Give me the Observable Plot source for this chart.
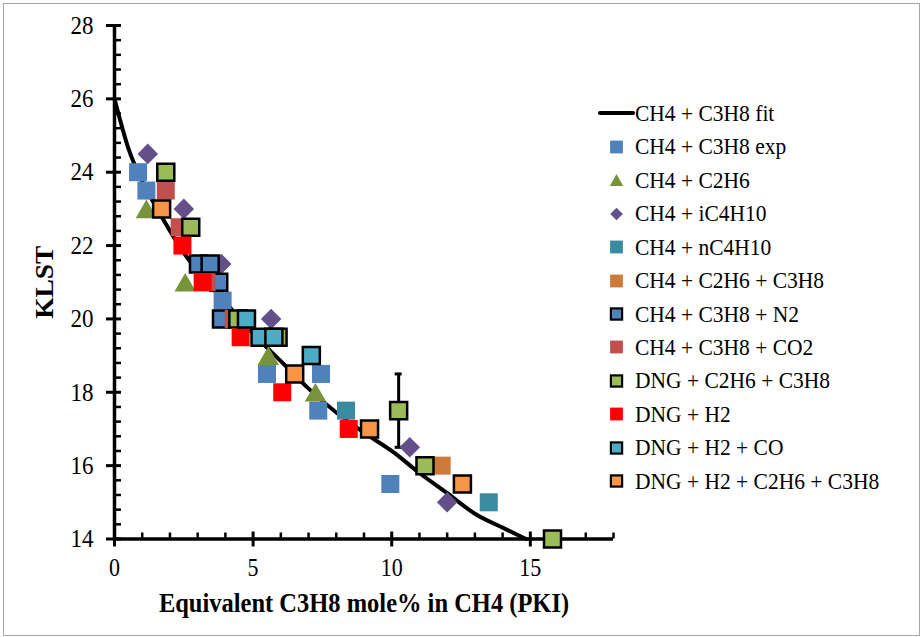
<!DOCTYPE html>
<html><head><meta charset="utf-8">
<script src="https://cdn.jsdelivr.net/npm/d3@7"></script>
<script src="https://cdn.jsdelivr.net/npm/@observablehq/plot@0.6"></script>
<style>
body{margin:0;background:#fff;}
#wrap{position:relative;width:921px;height:637px;font-family:'Liberation Serif','DejaVu Serif',serif;overflow:hidden;}
#frame{position:absolute;left:3px;top:3px;width:917px;height:633px;border:1px solid #a6a6a6;box-sizing:border-box;pointer-events:none;}
.lg{position:absolute;left:597px;height:30px;display:flex;align-items:center;font-size:21.5px;color:#000;white-space:nowrap;font-family:'Liberation Serif','DejaVu Serif',serif;}
.lg svg{width:38px;height:30px;flex:none;}
.lg span{display:inline-block;transform:scaleY(1.12);transform-origin:0 55%;}
svg text{font-family:'Liberation Serif','DejaVu Serif',serif;}
</style></head><body><div id="wrap"><div id="frame"></div></div>
<script>
// ---- data ----
const fitX = [0, 0.5, 1, 1.5, 2, 2.5, 3, 4, 5, 6, 7, 8, 9, 10, 11, 12, 13, 14, 14.85];
const fitY = [26, 24.65, 23.75, 23.05, 22.4, 21.8, 21.3, 20.45, 19.6, 18.85, 18.1, 17.45, 16.9, 16.4, 15.8, 15.25, 14.69, 14.31, 14];

const ch4C3h8Exp = [[0.85,24],[1.15,23.5],[3.9,20.5],[5.5,18.5],[7.45,18.5],[7.35,17.5],[9.95,15.5]];
const ch4C2h6 = [[1.15,23],[2.55,21],[5.55,19],[7.25,18]];
const ch4iC4h10 = [[1.2,24.5],[2.5,23],[3.85,21.5],[5.65,20],[10.65,16.5],[12.0,15]];
const ch4nC4h10 = [[8.35,17.5],[13.5,15]];
const ch4C2h6C3h8 = [[11.8,16]];
const ch4C3h8N2 = [[3.03,21.5],[3.45,21.5],[3.76,21],[3.86,20]];
const ch4C3h8Co2 = [[1.85,23.5],[2.35,22.5],[3.32,21],[4.3,20]];
const dngC2h6C3h8 = [[1.85,24],[2.75,22.5],[4.45,20],[5.9,19.5],[10.25,17.5],[11.2,16],[15.8,14]];
const dngH2 = [[2.45,22],[3.18,21],[4.55,19.5],[6.05,18],[8.45,17]];
const dngH2Co = [[4.76,20],[5.25,19.5],[5.75,19.5],[7.1,19]];
const dngH2C2h6C3h8 = [[1.7,23],[6.5,18.5],[9.2,17],[12.55,15.5]];

const errX = [10.25], errLo = [16.5], errHi = [18.5];

const xTicks = [0, 5, 10, 15];
const xMinor = [1,2,3,4,6,7,8,9,11,12,13,14,16,17,18];
const yTicks = [14, 16, 18, 20, 22, 24, 26, 28];
const yMinor = [14.4,14.8,15.2,15.6,16.4,16.8,17.2,17.6,18.4,18.8,19.2,19.6,20.4,20.8,21.2,21.6,22.4,22.8,23.2,23.6,24.4,24.8,25.2,25.6,26.4,26.8,27.2,27.6];

const seriesNames = ["CH4 + C3H8 exp","CH4 + C2H6","CH4 + iC4H10","CH4 + nC4H10","CH4 + C2H6 + C3H8","CH4 + C3H8 + N2","CH4 + C3H8 + CO2","DNG + C2H6 + C3H8","DNG + H2","DNG + H2 + CO","DNG + H2 + C2H6 + C3H8"];
const seriesData = [ch4C3h8Exp, ch4C2h6, ch4iC4h10, ch4nC4h10, ch4C2h6C3h8, ch4C3h8N2, ch4C3h8Co2, dngC2h6C3h8, dngH2, dngH2Co, dngH2C2h6C3h8];
const seriesFill = ["#4F81BD","#77933C","#63508A","#3A8B9F","#CD7B3B","#4F81BD","#C0504D","#9BBB59","#FF0000","#4BACC6","#F79646"];
const seriesShape = ["square","triangle","diamond","square","square","square","square","square","square","square","square"];
const seriesBorder = [false,false,false,false,false,true,false,true,false,true,true];

// ---- symbols ----
const symSquare = {draw(c, size){const s = Math.sqrt(size)/2; c.moveTo(-s,-s); c.lineTo(s,-s); c.lineTo(s,s); c.lineTo(-s,s); c.closePath();}};
const symDiamond = {draw(c, size){const h = Math.sqrt(size/2); c.moveTo(0,-h); c.lineTo(h,0); c.lineTo(0,h); c.lineTo(-h,0); c.closePath();}};
const symTriangle = {draw(c, size){const s = Math.sqrt(4*size/Math.sqrt(3)); const h = s*Math.sqrt(3)/2; c.moveTo(0,-h/2); c.lineTo(s/2,h/2); c.lineTo(-s/2,h/2); c.closePath();}};
const symOf = {square: symSquare, diamond: symDiamond, triangle: symTriangle};
function rOf(shape, border){
  if (shape === "triangle") return 7.95;
  if (shape === "diamond") return 8.2;
  return border ? 9.6 : 10.16;
}

const fit = fitX.map((x,i) => ({x, y: fitY[i]}));
const err = errX.map((x,i) => ({x, lo: errLo[i], hi: errHi[i]}));
const FONT = "'Liberation Serif','DejaVu Serif',serif";

const marks = [
  Plot.ruleY([14], {stroke: "black", strokeWidth: 3.5}),
  Plot.ruleX([0], {stroke: "black", strokeWidth: 3.5}),
  Plot.ruleX(xMinor, {x: d => d, y1: 14, y2: 14, insetTop: 0, insetBottom: 6, strokeWidth: 2.5}),
  Plot.ruleX(xTicks, {x: d => d, y1: 14, y2: 14, insetTop: 8, insetBottom: 7, strokeWidth: 3}),
  Plot.ruleY(yMinor, {y: d => d, x1: 0, x2: 0, insetLeft: 0, insetRight: -7, strokeWidth: 2.5}),
  Plot.ruleY(yTicks, {y: d => d, x1: 0, x2: 0, insetLeft: -8, insetRight: -7, strokeWidth: 3}),
  Plot.axisX({ticks: xTicks, tickSize: 0, tickPadding: 20, fontSize: 22, label: null, fontFamily: FONT}),
  Plot.axisY({ticks: yTicks, tickSize: 0, tickPadding: 21, fontSize: 23, label: null, fontFamily: FONT}),
  Plot.text(["Equivalent C3H8 mole% in CH4 (PKI)"], {frameAnchor: "bottom", dy: 64, lineAnchor: "middle", textAnchor: "middle", fontSize: 24.5, fontWeight: "bold", fill: "black", fontFamily: FONT}),
  Plot.text(["KLST"], {frameAnchor: "left", dx: -69, rotate: -90, lineAnchor: "middle", textAnchor: "middle", fontSize: 24.5, fontWeight: "bold", fill: "black", fontFamily: FONT}),
  Plot.line(fit, {x: "x", y: "y", stroke: "black", strokeWidth: 4, curve: "monotone-x"}),
  Plot.ruleX(err, {x: "x", y1: "lo", y2: "hi", stroke: "black", strokeWidth: 3}),
  Plot.ruleY(err, {y: "lo", x1: "x", x2: "x", insetLeft: -3.5, insetRight: -3.5, stroke: "black", strokeWidth: 3}),
  Plot.ruleY(err, {y: "hi", x1: "x", x2: "x", insetLeft: -3.5, insetRight: -3.5, stroke: "black", strokeWidth: 3})
];

seriesData.forEach((data, k) => {
  const border = seriesBorder[k];
  marks.push(Plot.dot(data, {
    x: d => d[0], y: d => d[1],
    symbol: symOf[seriesShape[k]],
    r: rOf(seriesShape[k], border),
    fill: seriesFill[k],
    stroke: border ? "black" : "none",
    strokeWidth: border ? 2.5 : 0
  }));
});

const chart = Plot.plot({
  width: 921, height: 637,
  marginLeft: 114, marginRight: 308, marginTop: 25, marginBottom: 98.5,
  x: {domain: [0, 18]},
  y: {domain: [14, 28]},
  style: {fontFamily: FONT, color: "black", background: "transparent", overflow: "visible"},
  marks
});

const wrap = document.getElementById("wrap");
chart.style.position = "absolute"; chart.style.left = "0"; chart.style.top = "0";
wrap.appendChild(chart);

// slightly taller glyphs, as in the reference rendering: wrap each text in a stretched group
const K = 1.12;
chart.querySelectorAll("text").forEach(t => {
  const g = document.createElementNS("http://www.w3.org/2000/svg", "g");
  t.parentNode.insertBefore(g, t);
  g.appendChild(t);
  const b = g.getBBox();
  const cy = b.y + b.height / 2;
  g.setAttribute("transform", `translate(0,${cy}) scale(1,${K}) translate(0,${-cy})`);
});

// ---- legend ----
const rowY0 = 113.3, rowStep = 33.45;
function addRow(i, swatch, label){
  const div = document.createElement("div");
  div.className = "lg";
  div.style.top = (rowY0 + i*rowStep - 15) + "px";
  div.innerHTML = `<svg viewBox="0 0 38 30">${swatch}</svg><span>${label}</span>`;
  wrap.appendChild(div);
}
addRow(0, `<line x1="3" y1="15" x2="36" y2="15" stroke="black" stroke-width="4" stroke-linecap="round"/>`, "CH4 + C3H8 fit");
seriesNames.forEach((name, k) => {
  const cx = 19.5, cy = 15, fill = seriesFill[k], shape = seriesShape[k], border = seriesBorder[k];
  let sw;
  if (shape === "triangle") sw = `<polygon points="${cx},${cy-6} ${cx+6.7},${cy+6} ${cx-6.7},${cy+6}" fill="${fill}"/>`;
  else if (shape === "diamond") sw = `<polygon points="${cx},${cy-6.3} ${cx+6.3},${cy} ${cx},${cy+6.3} ${cx-6.3},${cy}" fill="${fill}"/>`;
  else if (border) sw = `<rect x="${cx-5.6}" y="${cy-5.6}" width="11.2" height="11.2" fill="${fill}" stroke="black" stroke-width="2.2"/>`;
  else sw = `<rect x="${cx-6.4}" y="${cy-6.4}" width="12.8" height="12.8" fill="${fill}"/>`;
  addRow(k+1, sw, name);
});
</script></body></html>
